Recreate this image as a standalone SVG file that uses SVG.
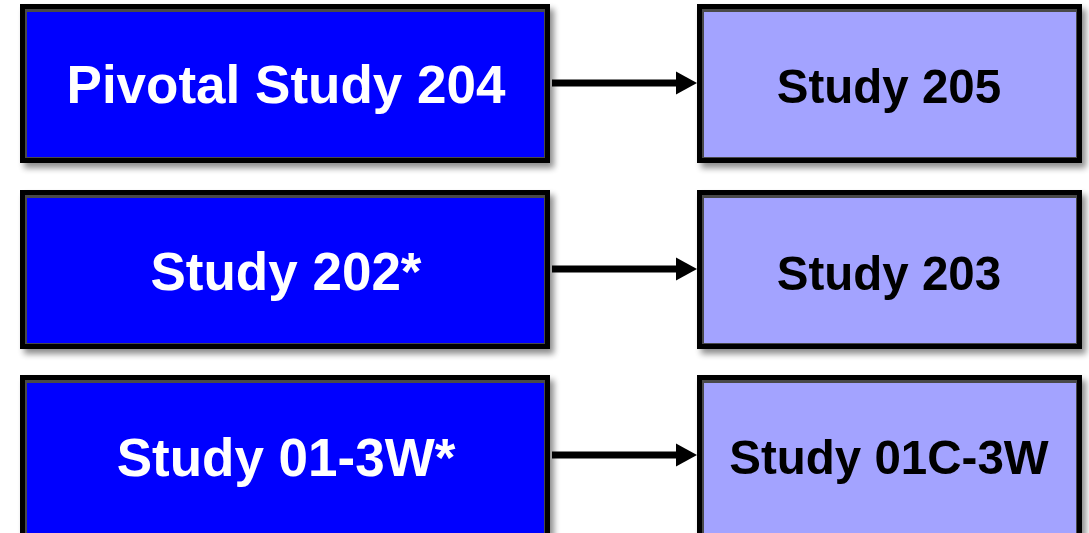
<svg xmlns="http://www.w3.org/2000/svg" width="1089" height="533" viewBox="0 0 1089 533">
<style>
.frame{fill:#000;}
.dark{fill:#0000ff;}
.light{fill:#a3a3ff;}
.bevel{fill:#4a4a4a;}
.lt{font-family:"Liberation Sans",Arial,sans-serif;font-weight:bold;font-size:53px;fill:#fff;text-anchor:middle;}
.rt{font-family:"Liberation Sans",Arial,sans-serif;font-weight:bold;font-size:47.5px;fill:#000;text-anchor:middle;}
.conn{stroke:#000;stroke-width:7;fill:none;}
.head{fill:#000;}
</style>
<defs>
<filter id="sh" x="-5%" y="-5%" width="115%" height="130%">
<feGaussianBlur in="SourceAlpha" stdDeviation="3"/>
<feOffset dx="4" dy="5"/>
<feComponentTransfer><feFuncA type="linear" slope="0.45"/></feComponentTransfer>
<feMerge><feMergeNode/><feMergeNode in="SourceGraphic"/></feMerge>
</filter>
</defs>
<rect width="1089" height="533" fill="#fff"/>
<g id="connectors">
<line class="conn" x1="552" y1="83" x2="680" y2="83"/>
<polygon class="head" points="676,71.5 697,83 676,94.5"/>
<line class="conn" x1="552" y1="269" x2="680" y2="269"/>
<polygon class="head" points="676,257.5 697,269 676,280.5"/>
<line class="conn" x1="552" y1="455" x2="680" y2="455"/>
<polygon class="head" points="676,443.5 697,455 676,466.5"/>
</g>
<g id="n204" filter="url(#sh)">
<rect class="frame" x="20" y="4" width="530" height="159"/>
<rect class="bevel" x="25" y="9" width="520" height="149"/>
<rect class="dark" x="27" y="12" width="517" height="145"/>
<text class="lt" x="286" y="103">Pivotal Study 204</text>
</g>
<g id="n202" filter="url(#sh)">
<rect class="frame" x="20" y="190" width="530" height="159"/>
<rect class="bevel" x="25" y="195" width="520" height="149"/>
<rect class="dark" x="27" y="198" width="517" height="145"/>
<text class="lt" x="286" y="290">Study 202*</text>
</g>
<g id="n013w" filter="url(#sh)">
<rect class="frame" x="20" y="375" width="530" height="162"/>
<rect class="bevel" x="25" y="380" width="520" height="160"/>
<rect class="dark" x="27" y="383" width="517" height="160"/>
<text class="lt" x="286" y="476">Study 01-3W*</text>
</g>
<g id="n205" filter="url(#sh)">
<rect class="frame" x="697" y="4" width="385" height="159"/>
<rect class="bevel" x="702" y="9" width="375" height="149"/>
<rect class="light" x="704" y="12" width="372" height="145"/>
<text class="rt" x="889" y="103">Study 205</text>
</g>
<g id="n203" filter="url(#sh)">
<rect class="frame" x="697" y="190" width="385" height="159"/>
<rect class="bevel" x="702" y="195" width="375" height="149"/>
<rect class="light" x="704" y="198" width="372" height="145"/>
<text class="rt" x="889" y="290">Study 203</text>
</g>
<g id="n01c3w" filter="url(#sh)">
<rect class="frame" x="697" y="375" width="385" height="162"/>
<rect class="bevel" x="702" y="380" width="375" height="160"/>
<rect class="light" x="704" y="383" width="372" height="160"/>
<text class="rt" x="889" y="474">Study 01C-3W</text>
</g>
</svg>
